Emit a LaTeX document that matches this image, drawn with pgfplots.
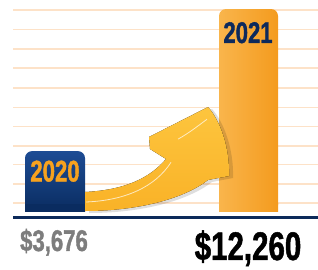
\documentclass[border=0pt]{standalone}
\usepackage{pgfplots}
\pgfplotsset{compat=1.18}
\usepackage{fontspec}
\setmainfont{Liberation Sans}
\newfontfamily\cond{Liberation Sans}[FakeStretch=0.74, FakeBold=1.2]
\definecolor{navyT}{HTML}{1D4C94}
\definecolor{navyB}{HTML}{0A2C60}
\definecolor{navyTxt}{HTML}{0D2A5C}
\definecolor{orL}{HTML}{F9B54C}
\definecolor{orR}{HTML}{F49B1E}
\definecolor{orTxt}{HTML}{F7A21E}
\definecolor{gridc}{HTML}{FDE2C8}
\definecolor{axisc}{HTML}{0C2A5A}
\definecolor{greyTxt}{HTML}{7D7D7D}
\definecolor{arrT}{HTML}{FDC53E}
\definecolor{arrB}{HTML}{F9B227}
\begin{document}
\begin{tikzpicture}
\begin{axis}[
  name=ax,
  width=318bp, height=270bp, scale only axis,
  xmin=0, xmax=318, ymin=-3503, ymax=12804,
  hide axis, clip=false,
]
% grid lines
\pgfplotsinvokeforeach{544,1691,2857,4004,5152,6323,7489,8679,9844,11034,12200}{
  \draw[gridc, line width=1.6bp] (axis cs:13,#1) -- (axis cs:318,#1);
}
% bars
\addplot[ybar, bar width=60, bar shift=0pt, draw=none, top color=navyT, bottom color=navyB, rounded corners=7bp] coordinates {(55,3676)};
\addplot[ybar, bar width=60, bar shift=0pt, draw=none, fill=navyB] coordinates {(55,500)};
\addplot[ybar, bar width=59, bar shift=0pt, draw=none, left color=orL, right color=orR, rounded corners=7bp] coordinates {(248.5,12260)};
\addplot[ybar, bar width=59, bar shift=0pt, draw=none, left color=orL, right color=orR] coordinates {(248.5,500)};
% arrow shadow
\fill[black, opacity=0.13, xshift=4bp, yshift=-2bp]
  (axis cs:85,1208) .. controls (axis cs:125,1329) and (axis cs:150,2053) .. (axis cs:166,3200)
  -- (axis cs:150,3805) -- (axis cs:149,4530) -- (axis cs:208,6341)
  .. controls (axis cs:220,5556) and (axis cs:230,3865) .. (axis cs:229,2174)
  -- (axis cs:208,1933)
  .. controls (axis cs:185,846) and (axis cs:140,60) .. (axis cs:85,60) -- cycle;
% arrow
\fill[top color=arrT, bottom color=arrB]
  (axis cs:85,1208) .. controls (axis cs:125,1329) and (axis cs:150,2053) .. (axis cs:166,3200)
  -- (axis cs:150,3805) -- (axis cs:149,4530) -- (axis cs:208,6341)
  .. controls (axis cs:220,5556) and (axis cs:230,3865) .. (axis cs:229,2174)
  -- (axis cs:208,1933)
  .. controls (axis cs:185,846) and (axis cs:140,60) .. (axis cs:85,60) -- cycle;
% highlights
\draw[white, opacity=0.7, line width=0.8bp]
  (axis cs:86,604) .. controls (axis cs:125,700) and (axis cs:155,1500) .. (axis cs:171,3000);
\draw[white, opacity=0.7, line width=0.8bp]
  (axis cs:178,4400) .. controls (axis cs:190,4800) and (axis cs:200,5300) .. (axis cs:207,5600);
% baseline
\draw[axisc, line width=3.5bp] (axis cs:13,-332) -- (axis cs:318,-332);
% labels
\node[anchor=base, text=orTxt, font=\cond\bfseries\fontsize{30}{30}\selectfont] at (axis cs:55,1842) {2020};
\node[anchor=base, text=navyTxt, font=\cond\bfseries\fontsize{30}{30}\selectfont] at (axis cs:248,10207) {2021};
\node[anchor=base, text=greyTxt, font=\cond\bfseries\fontsize{30}{30}\selectfont] at (axis cs:54,-2355) {\$3,676};
\node[anchor=base, text=black, font=\cond\bfseries\fontsize{40}{40}\selectfont] at (axis cs:248,-2899) {\$12,260};
\end{axis}
\pgfresetboundingbox
\path (ax.south west) rectangle (ax.north east);
\end{tikzpicture}
\end{document}
